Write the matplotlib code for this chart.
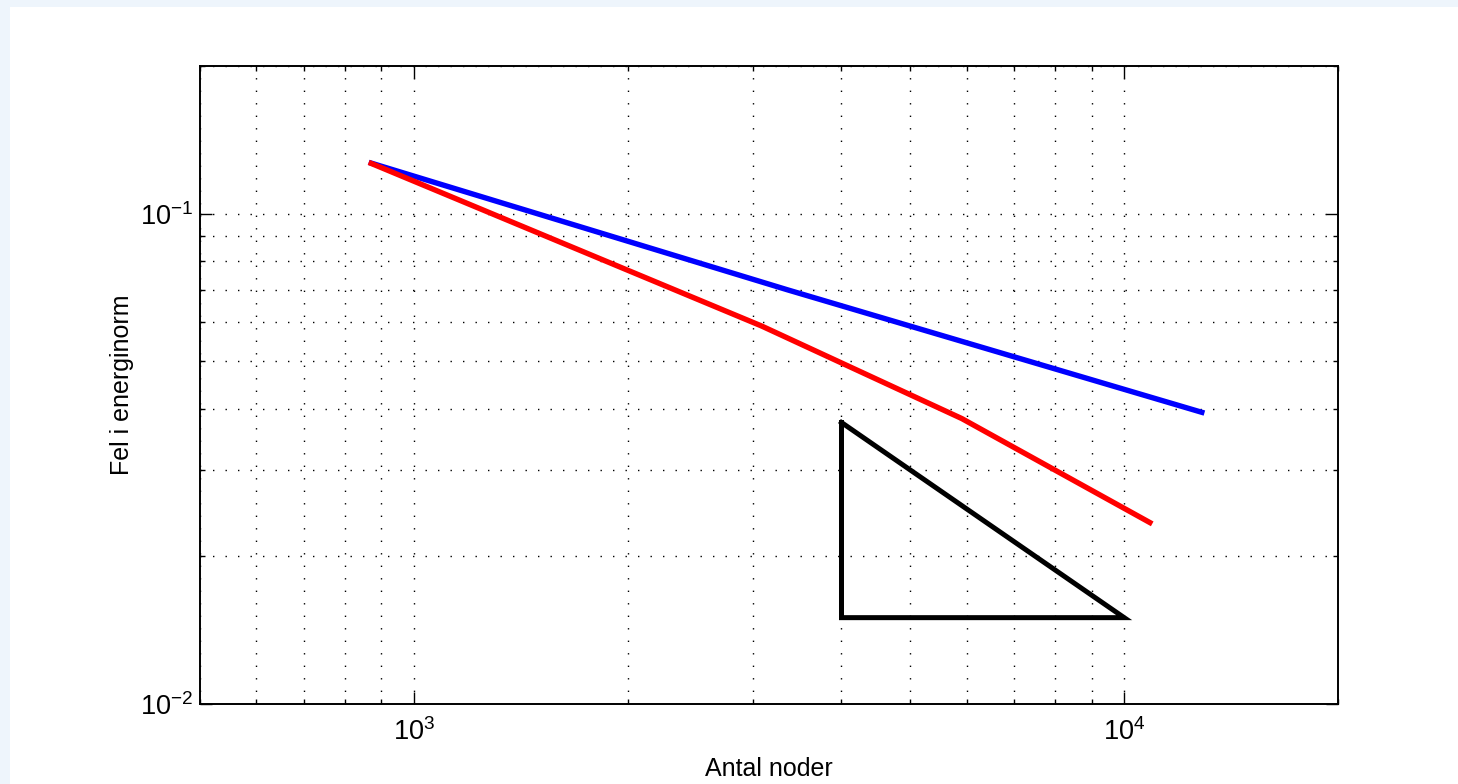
import matplotlib.pyplot as plt
import matplotlib.patches as patches
from matplotlib.ticker import LogLocator, NullFormatter

plt.rcParams["font.family"] = ["Liberation Sans", "DejaVu Sans"]
plt.rcParams["mathtext.fontset"] = "custom"
plt.rcParams["mathtext.rm"] = "Liberation Sans"

# uniform refinement (blue) and adaptive refinement (red)
blue_nodes = [864, 3360, 12970]
blue_err = [0.1272, 0.0699, 0.0392]
red_nodes = [864, 3087, 5908, 10952]
red_err = [0.1272, 0.0590, 0.0382, 0.0233]

# slope -1 reference triangle
tri_nodes = [4000, 4000, 10000, 4000]
tri_err = [0.0375, 0.015, 0.015, 0.0375]

x_limits = (500, 20000)
y_limits = (0.01, 0.2)
x_label = "Antal noder"
y_label = "Fel i energinorm"

W, H = 1458, 784
fig = plt.figure(figsize=(W / 100, H / 100), dpi=100, facecolor="#eef5fc")
fig.patches.append(
    patches.Rectangle((10 / W, 0), 1, (H - 7) / H, transform=fig.transFigure,
                      facecolor="white", edgecolor="none", zorder=-10)
)

ax = fig.add_axes([200 / W, 80 / H, 1138 / W, 638 / H])
ax.set_zorder(5)
ax.set_xscale("log")
ax.set_yscale("log")

ax.plot(blue_nodes, blue_err, color="#0000ff", lw=3.9, solid_capstyle="butt", zorder=3)
ax.plot(red_nodes, red_err, color="#ff0000", lw=3.9, solid_capstyle="butt", zorder=3)
ax.plot(tri_nodes, tri_err, color="black", lw=3.6, solid_joinstyle="miter", zorder=3)

ax.set_xlim(*x_limits)
ax.set_ylim(*y_limits)

for axis in (ax.xaxis, ax.yaxis):
    axis.set_major_locator(LogLocator(base=10))
    axis.set_minor_locator(LogLocator(base=10, subs=range(2, 10)))
    axis.set_minor_formatter(NullFormatter())

grid_style = dict(color="black", linestyle=(0, (1, 8)), linewidth=1.0)
ax.grid(True, which="major", **grid_style)
ax.grid(True, which="minor", **grid_style)

ax.tick_params(which="both", direction="in", top=True, right=True,
               labelsize=19.5, width=1.0, color="black")
ax.tick_params(which="major", length=8.5)
ax.tick_params(which="minor", length=3.6)
ax.tick_params(axis="x", which="major", pad=10)
ax.tick_params(axis="y", which="major", pad=5)

for spine in ax.spines.values():
    spine.set_linewidth(1.4)
    spine.set_color("black")

ax.set_xlabel(x_label, fontsize=18)
ax.set_ylabel(y_label, fontsize=18)
ax.xaxis.set_label_coords(0.5, -0.083)
ax.yaxis.set_label_coords(-0.058, 0.5)

fig.savefig("out.png", dpi=100, facecolor=fig.get_facecolor())
